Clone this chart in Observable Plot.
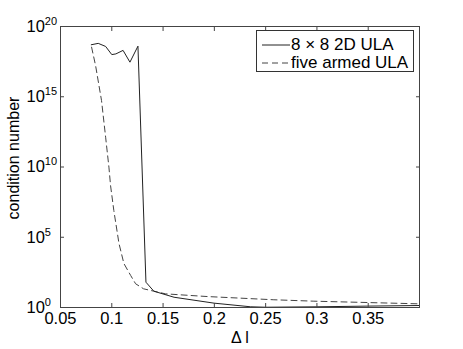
<!DOCTYPE html>
<html><head><meta charset="utf-8">
<script src="https://cdn.jsdelivr.net/npm/d3@7"></script>
<script src="https://cdn.jsdelivr.net/npm/@observablehq/plot@0.6"></script>
<style>
body{margin:0;background:#fff;}
#wrap{position:relative;width:463px;height:349px;font-family:"Liberation Sans",Arial,sans-serif;}
#legend{position:absolute;left:256px;top:30px;width:158px;height:42px;border:1px solid #333;background:#fff;font-size:17px;color:#000;box-sizing:border-box;}
#legend .row{position:absolute;left:5px;height:18px;display:flex;align-items:center;white-space:nowrap;}
#legend svg{margin-right:1px;}
</style></head><body><div id="wrap"></div>
<script>
// Series 1: 8 x 8 2D ULA  (x = Δl, y = log10 of condition number)
const dl2D = [0.080, 0.0868, 0.094, 0.100, 0.104, 0.111, 0.1177, 0.1255, 0.1333, 0.141, 0.1607, 0.1997, 0.2355, 0.25, 0.30, 0.35, 0.40];
const lc2D = [18.7, 18.8, 18.58, 18.0, 18.05, 18.3, 17.46, 18.6, 1.8, 1.16, 0.73, 0.31, 0.05, 0.02, 0.05, 0.10, 0.14];
// Series 2: five armed ULA
const dlFive = [0.0803, 0.0842, 0.090, 0.094, 0.0972, 0.0988, 0.102, 0.107, 0.1118, 0.1184, 0.1232, 0.131, 0.141, 0.1525, 0.193, 0.258, 0.297, 0.40];
const lcFive = [18.53, 17.22, 14.73, 12.12, 9.99, 8.68, 6.9, 4.56, 3.13, 2.28, 1.69, 1.33, 1.16, 0.97, 0.78, 0.55, 0.45, 0.26];
const seriesNames = ["8 \u00d7 8 2D ULA", "five armed ULA"];
const xTicks = [0.05, 0.1, 0.15, 0.2, 0.25, 0.3, 0.35];
const yTickExps = [0, 5, 10, 15, 20];
const xLabel = "\u0394 l";
const yLabel = "condition number";

const d2D = dl2D.map((x, i) => ({x, y: 10 ** lc2D[i]}));
const dFive = dlFive.map((x, i) => ({x, y: 10 ** lcFive[i]}));
const yTicks = yTickExps.map(e => 10 ** e);

const ink = "#222";
const chart = Plot.plot({
  width: 463, height: 349,
  marginLeft: 60, marginRight: 44, marginTop: 26, marginBottom: 42,
  style: {fontFamily: "'Liberation Sans', Arial, sans-serif", fontSize: "16px", color: "#000", background: "#fff"},
  x: {domain: [0.05, 0.4]},
  y: {type: "log", domain: [1, 1e20]},
  marks: [
    Plot.line(dFive, {x: "x", y: "y", stroke: "#444", strokeWidth: 1, strokeDasharray: "6,4"}),
    Plot.line(d2D, {x: "x", y: "y", stroke: ink, strokeWidth: 1}),
    Plot.frame({stroke: "#444"}),
    Plot.axisX({anchor: "bottom", ticks: xTicks, tickSize: -4, fill: "none", stroke: "#444", label: null}),
    Plot.axisX({anchor: "top", ticks: xTicks, tickSize: -4, fill: "none", stroke: "#444", label: null}),
    Plot.axisY({anchor: "left", ticks: yTicks, tickSize: -4, fill: "none", stroke: "#444", label: null}),
    Plot.axisY({anchor: "right", ticks: yTicks, tickSize: -4, fill: "none", stroke: "#444", label: null}),
    Plot.axisX({anchor: "bottom", ticks: xTicks, tickSize: 0, tickPadding: 5, fontSize: 16.5, tickFormat: d => String(d), label: null}),
    Plot.axisY({anchor: "left", ticks: yTicks, tickSize: 0, tickPadding: 34, textAnchor: "start", fontSize: 16.5,
      tickFormat: d => "10^" + Math.round(Math.log10(d)), label: null}),
    Plot.text([xLabel], {frameAnchor: "bottom", dy: 30, text: d => d, fontSize: 16, lineAnchor: "middle"}),
    Plot.text([yLabel], {frameAnchor: "left", dx: -47, dy: -9, rotate: -90, textAnchor: "middle", text: d => d, fontSize: 16})
  ]
});

// superscripts for the y tick labels
d3.select(chart).selectAll("text").each(function() {
  const t = this.textContent;
  const m = /^10\^(\d+)$/.exec(t);
  if (m) {
    const sel = d3.select(this);
    sel.text("10");
    sel.append("tspan").attr("dy", "-7").attr("font-size", "11").text(m[1]);
  }
});

const wrap = document.getElementById("wrap");
wrap.appendChild(chart);

const legend = document.createElement("div");
legend.id = "legend";
const dashes = [null, "6,4"];
seriesNames.forEach((name, i) => {
  const row = document.createElement("div");
  row.className = "row";
  row.style.top = (4.5 + i * 18.7) + "px";
  row.innerHTML = `<svg width="28" height="10"><line x1="0" x2="28" y1="5" y2="5" stroke="${i ? '#444' : ink}" stroke-width="1" ${dashes[i] ? `stroke-dasharray="${dashes[i]}"` : ""}/></svg><span></span>`;
  row.querySelector("span").textContent = name;
  legend.appendChild(row);
});
wrap.appendChild(legend);
</script></body></html>
